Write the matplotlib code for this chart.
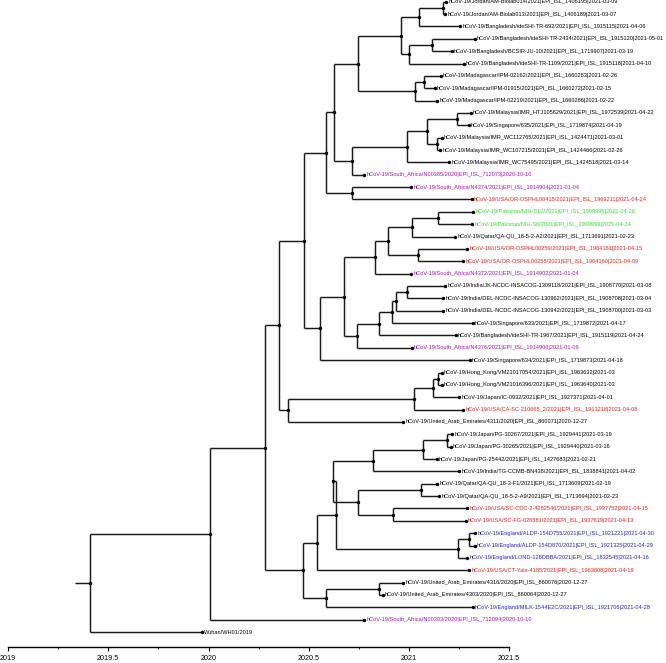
import matplotlib
matplotlib.use("Agg")
import numpy as np
from matplotlib import pyplot as plt

plt.rcParams['font.family'] = ['Liberation Sans', 'DejaVu Sans']

tip_labels = [
    "hCoV-19/Jordan/AM-Biolab014/2021|EPI_ISL_1406195|2021-03-09",
    "hCoV-19/Jordan/AM-Biolab013/2021|EPI_ISL_1406189|2021-03-07",
    "hCoV-19/Bangladesh/ideSHI-TR-692/2021|EPI_ISL_1915115|2021-04-06",
    "hCoV-19/Bangladesh/ideSHI-TR-2434/2021|EPI_ISL_1915120|2021-05-01",
    "hCoV-19/Bangladesh/BCSIR-JU-10/2021|EPI_ISL_1719907|2021-03-19",
    "hCoV-19/Bangladesh/ideSHI-TR-1109/2021|EPI_ISL_1915118|2021-04-10",
    "hCoV-19/Madagascar/IPM-02162/2021|EPI_ISL_1660283|2021-02-26",
    "hCoV-19/Madagascar/IPM-01915/2021|EPI_ISL_1660272|2021-02-15",
    "hCoV-19/Madagascar/IPM-02219/2021|EPI_ISL_1660286|2021-02-22",
    "hCoV-19/Malaysia/IMR_HTJ105629/2021|EPI_ISL_1972539|2021-04-22",
    "hCoV-19/Singapore/635/2021|EPI_ISL_1719874|2021-04-19",
    "hCoV-19/Malaysia/IMR_WC112765/2021|EPI_ISL_1424471|2021-03-01",
    "hCoV-19/Malaysia/IMR_WC107215/2021|EPI_ISL_1424466|2021-02-26",
    "hCoV-19/Malaysia/IMR_WC75495/2021|EPI_ISL_1424518|2021-03-14",
    "hCoV-19/South_Africa/N00385/2020|EPI_ISL_712073|2020-10-10",
    "hCoV-19/South_Africa/N4374/2021|EPI_ISL_1914904|2021-01-04",
    "hCoV-19/USA/OR-OSPHL00415/2021|EPI_ISL_1969211|2021-04-24",
    "hCoV-19/Pakistan/NIH-S12/2021|EPI_ISL_1969995|2021-04-26",
    "hCoV-19/Pakistan/NIH-S6/2021|EPI_ISL_1969999|2021-04-24",
    "hCoV-19/Qatar/QA-QU_18-5-2-A2/2021|EPI_ISL_1713691|2021-02-23",
    "hCoV-19/USA/OR-OSPHL00259/2021|EPI_ISL_1964161|2021-04-15",
    "hCoV-19/USA/OR-OSPHL00255/2021|EPI_ISL_1964160|2021-04-09",
    "hCoV-19/South_Africa/N4372/2021|EPI_ISL_1914902|2021-01-04",
    "hCoV-19/India/JK-NCDC-INSACOG-1309118/2021|EPI_ISL_1908770|2021-03-08",
    "hCoV-19/India/DEL-NCDC-INSACOG-130962/2021|EPI_ISL_1908708|2021-03-04",
    "hCoV-19/India/DEL-NCDC-INSACOG-130942/2021|EPI_ISL_1908700|2021-03-03",
    "hCoV-19/Singapore/633/2021|EPI_ISL_1719872|2021-04-17",
    "hCoV-19/Bangladesh/ideSHI-TR-1967/2021|EPI_ISL_1915119|2021-04-24",
    "hCoV-19/South_Africa/N4376/2021|EPI_ISL_1914906|2021-01-06",
    "hCoV-19/Singapore/634/2021|EPI_ISL_1719873|2021-04-18",
    "hCoV-19/Hong_Kong/VM21017054/2021|EPI_ISL_1963632|2021-03",
    "hCoV-19/Hong_Kong/VM21016396/2021|EPI_ISL_1963640|2021-03",
    "hCoV-19/Japan/IC-0932/2021|EPI_ISL_1927371|2021-04-01",
    "hCoV-19/USA/CA-SC-210665_2/2021|EPI_ISL_1913218|2021-04-08",
    "hCoV-19/United_Arab_Emirates/4311/2020|EPI_ISL_860071|2020-12-27",
    "hCoV-19/Japan/PG-30267/2021|EPI_ISL_1929441|2021-03-19",
    "hCoV-19/Japan/PG-30265/2021|EPI_ISL_1929440|2021-03-16",
    "hCoV-19/Japan/PG-25442/2021|EPI_ISL_1427683|2021-02-21",
    "hCoV-19/India/TG-CCMB-BN438/2021|EPI_ISL_1838841|2021-04-02",
    "hCoV-19/Qatar/QA-QU_18-3-F1/2021|EPI_ISL_1713609|2021-02-19",
    "hCoV-19/Qatar/QA-QU_18-5-2-A9/2021|EPI_ISL_1713694|2021-02-23",
    "hCoV-19/USA/SC-CDC-2-4282546/2021|EPI_ISL_1937752|2021-04-15",
    "hCoV-19/USA/SC-FG-026581/2021|EPI_ISL_1937619|2021-04-13",
    "hCoV-19/England/ALDP-154D755/2021|EPI_ISL_1921221|2021-04-30",
    "hCoV-19/England/ALDP-154D870/2021|EPI_ISL_1921325|2021-04-29",
    "hCoV-19/England/LOND-128DBBA/2021|EPI_ISL_1832545|2021-04-16",
    "hCoV-19/USA/CT-Yale-4185/2021|EPI_ISL_1963808|2021-04-19",
    "hCoV-19/United_Arab_Emirates/4316/2020|EPI_ISL_860076|2020-12-27",
    "hCoV-19/United_Arab_Emirates/4303/2020|EPI_ISL_860064|2020-12-27",
    "hCoV-19/England/MILK-1544E2C/2021|EPI_ISL_1921706|2021-04-28",
    "hCoV-19/South_Africa/N00393/2020|EPI_ISL_712094|2020-10-10",
    "Wuhan/WH01/2019",
]

# tip positions in decimal years
tip_years = [
    2021.186, 2021.181, 2021.255, 2021.328, 2021.212, 2021.272, 2021.158,
    2021.128, 2021.142, 2021.307, 2021.297, 2021.163, 2021.157, 2021.200,
    2020.778, 2021.012, 2021.312, 2021.319, 2021.315, 2021.229, 2021.291,
    2021.271, 2021.010, 2021.181, 2021.171, 2021.170, 2021.318, 2021.233,
    2021.013, 2021.302, 2021.163, 2021.163, 2021.250, 2021.270, 2020.972,
    2021.214, 2021.207, 2021.139, 2021.251, 2021.140, 2021.150, 2021.291,
    2021.283, 2021.329, 2021.328, 2021.290, 2021.300, 2020.972, 2020.869,
    2021.318, 2020.778, 2019.966,
]

tip_groups = list("kkkkkkkkkkkkkk" "mmrggkrrm" "kkkkkm" "kkkkr" "kkkkkkkrr"
                  "bbbr" "kkbm" "k")

palette = {"k": "#000000", "m": "#b010c0", "r": "#ff1a1a",
           "g": "#2ee82e", "b": "#1f1fff"}

# topology: tips are 1-based indices into tip_labels, internal nodes named
c1 = "(((1,2)J,3)JB,((4,5)B1,6)B2)C1"
c2 = f"({c1},((7,8)M1,9)M)C2"
mb = "((((10,11)Md,(12,13)Me)Mc,14)Ma,15)Mb"
c3 = f"({c2},{mb})C3"
c4 = f"({c3},(16,17)X)C4"
s2 = ("(((((18,19)P1,20)P,(21,22)Q2)Q,23)R,"
      "(((((24,25)S7,26)S6,27)S5,28)S4,29)S3)S2")
s1 = f"({s2},30)S1"
c5 = f"({c4},{s1})C5"
yy = "((((31,32)H1,33)H2,34)H3,35)Y"
z = f"({c5},{yy})Z"
l1 = "((((36,37)J3,38)J2,39)J1,((40,41)K2,(42,43)K3)K1)L1"
n2 = f"((({l1},((44,45)E1,46)E)L2,47)N1,((48,49)U2,50)U1)N2"
tree_newick = f"((({z},{n2})W,51)V,52)root"

node_names = ["root", "V", "W", "Z", "C5", "C4", "C3", "C2", "C1", "JB",
              "J", "B2", "B1", "M", "M1", "Mb", "Ma", "Mc", "Md", "Me", "X",
              "S1", "S2", "R", "Q", "P", "P1", "Q2", "S3", "S4", "S5", "S6",
              "S7", "Y", "H3", "H2", "H1", "N2", "N1", "L2", "L1", "J1",
              "J2", "J3", "K1", "K2", "K3", "E", "E1", "U1", "U2"]
node_years = [2019.409, 2020.007, 2020.283, 2020.352, 2020.474, 2020.586,
              2020.627, 2020.744, 2020.959, 2021.051, 2021.170, 2021.001,
              2021.113, 2021.031, 2021.076, 2020.714, 2020.989, 2021.088,
              2021.238, 2021.138, 2020.714, 2020.558, 2020.677, 2020.830,
              2020.894, 2021.016, 2021.146, 2021.046, 2020.739, 2020.852,
              2020.914, 2020.935, 2020.989, 2020.395, 2021.026, 2021.119,
              2021.146, 2020.473, 2020.540, 2020.636, 2020.619, 2020.819,
              2021.071, 2021.191, 2020.747, 2021.058, 2020.919, 2021.246,
              2021.301, 2020.585, 2020.852]
root_stub = 2019.334


def parse(s):
    pos = 0

    def node():
        nonlocal pos
        kids = []
        if s[pos] == "(":
            pos += 1
            kids.append(node())
            while s[pos] == ",":
                pos += 1
                kids.append(node())
            pos += 1
        start = pos
        while pos < len(s) and s[pos] not in ",()":
            pos += 1
        return s[start:pos], kids
    return node()


node_x = dict(zip(node_names, node_years))
line_kw = dict(color="#1a1a1a", lw=1.05, solid_capstyle="butt", zorder=1)
dot_kw = dict(s=6, color="black", zorder=3, linewidths=0)

fig = plt.figure(figsize=(6.66, 6.63), dpi=100)
ax = fig.add_axes([0, 16.3 / 663, 1, 646.7 / 663])


def draw(nd):
    name, kids = nd
    if not kids:
        i = int(name) - 1
        x, y = tip_years[i], i + 1
        ax.scatter([x], [y], **dot_kw)
        ax.annotate(tip_labels[i], (x, y), xytext=(1.6, 0),
                    textcoords="offset points", va="center", ha="left",
                    fontsize=4.1, color=palette[tip_groups[i]])
        return x, y
    x = node_x[name]
    pts = [draw(k) for k in kids]
    ys = [p[1] for p in pts]
    for cx, cy in pts:
        ax.plot([x, cx], [cy, cy], **line_kw)
    ax.plot([x, x], [min(ys), max(ys)], **line_kw)
    y = (ys[0] + ys[-1]) / 2
    ax.scatter([x], [y], **dot_kw)
    return x, y


rx, ry = draw(parse(tree_newick))
ax.plot([root_stub, rx], [ry, ry], **line_kw)

ax.set_xlim(2019 - 8 / 200.5, 2019 + 658 / 200.5)
ax.set_ylim(1 + (646.7 - 1.7) / 12.36, 1 - 1.7 / 12.36)
for side in ["top", "right", "left"]:
    ax.spines[side].set_visible(False)
ax.spines["bottom"].set_bounds(2019, 2021.5)
ax.spines["bottom"].set_linewidth(1.0)
ax.set_yticks([])
ax.set_xticks([2019, 2019.5, 2020, 2020.5, 2021, 2021.5])
ax.set_xticklabels(["2019", "2019.5", "2020", "2020.5", "2021", "2021.5"])
ax.set_xticks([2019.25, 2019.75, 2020.25, 2020.75, 2021.25], minor=True)
ax.tick_params(axis="x", which="major", length=3, width=0.8, labelsize=5.2,
               pad=3)
ax.tick_params(axis="x", which="minor", length=1.5, width=0.6)
ax.patch.set_visible(False)

fig.savefig("out.png", dpi=100)
